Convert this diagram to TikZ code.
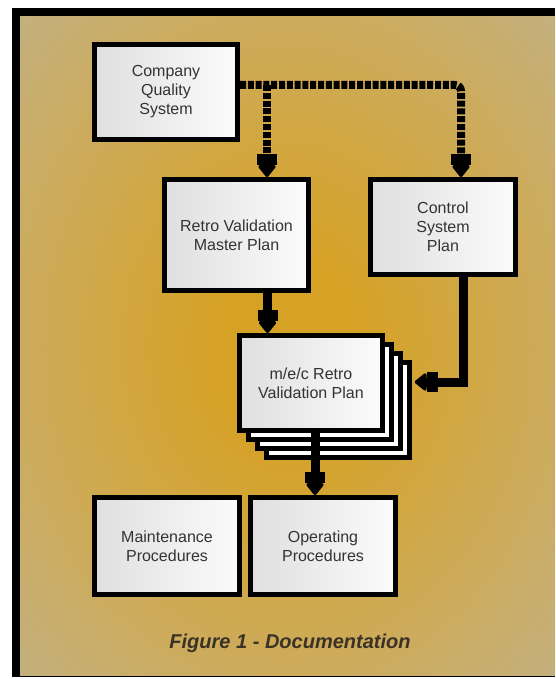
\documentclass[tikz,border=0pt]{standalone}
\usepackage{fontspec}
\setmainfont{Liberation Sans}
\usetikzlibrary{arrows.meta}

\definecolor{bggold}{RGB}{214,162,38}
\definecolor{bgmid}{RGB}{206,170,84}
\definecolor{bgedge}{RGB}{192,178,140}
\definecolor{bgcorner}{RGB}{180,176,166}
\definecolor{capcolor}{RGB}{58,50,38}
\pgfdeclareradialshading{bgglow}{\pgfpoint{0bp}{0bp}}{color(0bp)=(bggold); color(7bp)=(bggold); color(22bp)=(bgmid); color(40bp)=(bgedge); color(60bp)=(bgcorner); color(80bp)=(bgcorner)}

\begin{document}
\begin{tikzpicture}[x=1pt, y=-1pt,
    docbox/.style={draw, line width=5pt, left color=gray!25, right color=gray!3,
        text=black!80, font=\fontsize{16}{19}\selectfont, align=center, inner sep=2pt},
    sheet/.style={draw, line width=4.5pt, fill=white, minimum width=143pt, minimum height=95pt},
    headtip/.style={-{Rectangle[width=20pt,length=11pt]Triangle[width=20pt,length=13pt,round]}},
    solidarrow/.style={line width=9pt, headtip},
    dotarrow/.style={line width=8pt, dash pattern=on 6pt off 1.8pt, rounded corners=6pt, headtip}]
    \useasboundingbox (0,0) rectangle (555,679);
    % frame and glowing background
    \fill[black] (12,8) rectangle (555,677);
    \shade[shading=bgglow] (20,17) rectangle (555,675);

    \node[docbox, minimum width=143pt, minimum height=95pt] (company) at (166,92) {Company\\Quality\\System};
    \node[docbox, minimum width=144pt, minimum height=111pt] (rvmp) at (236.5,235) {Retro Validation\\Master Plan};
    \node[docbox, minimum width=145pt, minimum height=95pt] (csp) at (443,227) {Control\\System\\Plan};

    % stacked sheets behind the plan
    \node[sheet] (sheet3) at (338,410) {};
    \node[sheet] (sheet2) at (329,401) {};
    \node[sheet] (sheet1) at (320,392) {};
    \node[docbox, minimum width=143pt, minimum height=95pt] (stack) at (311,383) {m/e/c Retro\\Validation Plan};

    \node[docbox, minimum width=145pt, minimum height=97pt] (maint) at (167,546) {Maintenance\\Procedures};
    \node[docbox, minimum width=145pt, minimum height=97pt] (oper) at (323,546) {Operating\\Procedures};

    \node[font=\fontsize{20}{24}\selectfont\bfseries\itshape, text=capcolor, anchor=base] (caption) at (290,648) {Figure 1 - Documentation};

    % connectors
    \coordinate (tap) at (267,85);
    \draw[dotarrow] ([yshift=7pt]company.east) -| ([xshift=18pt]csp.north);
    \draw[dotarrow] (tap) -- (tap |- rvmp.north);
    \draw[solidarrow] ([xshift=31pt]rvmp.south) -- ([xshift=31pt]rvmp.south |- stack.north);
    \draw[solidarrow] ([xshift=4pt]stack.south) -- ([xshift=4pt]stack.south |- oper.north);
    \draw[solidarrow] ([xshift=20pt]csp.south) |- ([xshift=3pt,yshift=1pt]stack.east -| sheet3.east);
\end{tikzpicture}
\end{document}
